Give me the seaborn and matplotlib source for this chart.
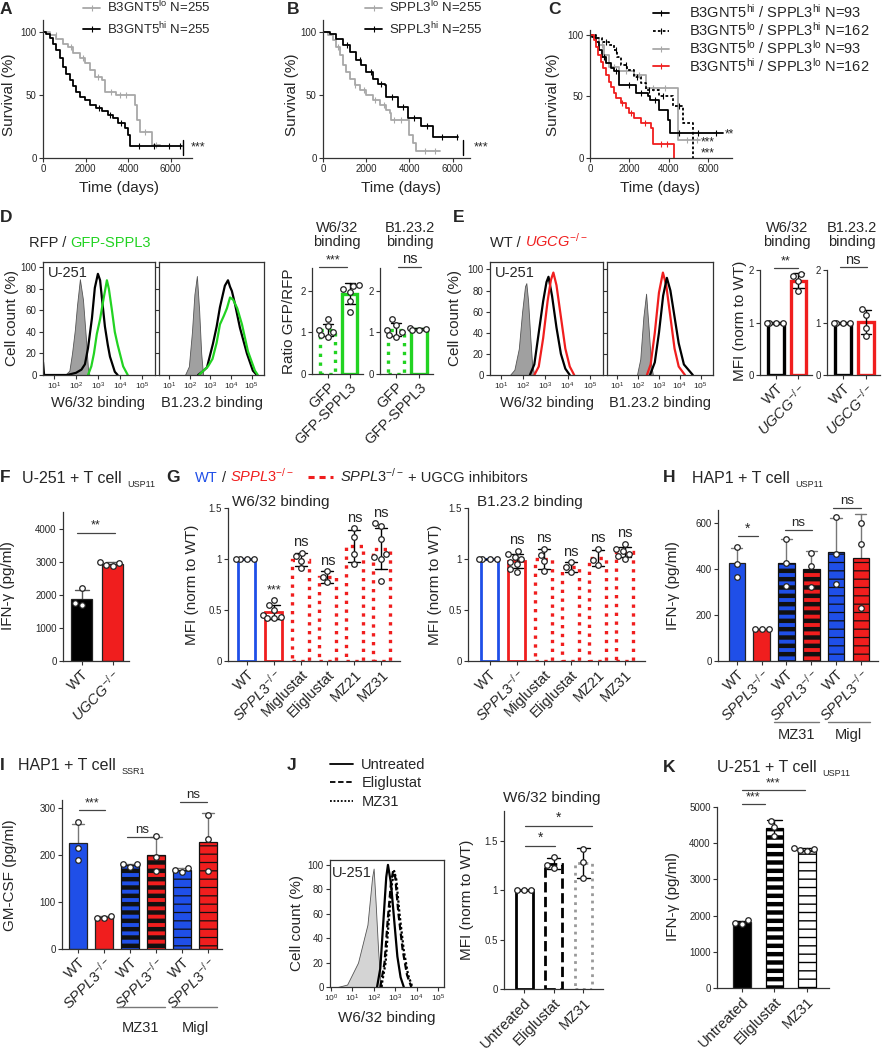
import numpy as np
import pandas as pd
import matplotlib
matplotlib.use('Agg')
import matplotlib.pyplot as plt
import matplotlib.transforms as mtransforms
import seaborn as sns
from matplotlib.lines import Line2D

W, H = 883, 1050
BLUE, RED, GREEN = '#1f4fe8', '#f01e1e', '#22d322'
GREYLINE = '#a8a8a8'

# ---------------- Kaplan-Meier data (time in days where survival % steps) ----------------
a_hi_t = [0, 160, 310, 470, 630, 790, 940, 1100, 1260, 1410, 1570, 1730, 1960, 2200, 2510, 2750, 3060, 3300, 3530, 3850, 4000, 4110, 6520]
a_hi_s = [100, 98.7, 95.5, 90.8, 85.5, 79, 72, 67, 62, 57, 52.6, 48.7, 46, 42, 39.5, 37, 34, 31.6, 27.6, 23.7, 18.4, 9.7, 9.7]
a_hi_c = [2650, 3150, 3650, 4500, 5200, 5900, 6450]
a_lo_t = [0, 310, 630, 940, 1180, 1410, 1730, 1960, 2200, 2430, 2750, 2900, 3450, 4320, 4400, 4550, 5100, 5500]
a_lo_s = [100, 97.4, 94.7, 90.8, 88, 83, 79, 75, 70, 64.5, 62, 52.6, 50, 42, 30, 21, 10.5, 10.5]
a_lo_c = [600, 1300, 1900, 2600, 3200, 3600, 3900, 4800, 5300]

b_lo_t = [0, 230, 460, 620, 770, 920, 1080, 1230, 1460, 1690, 2000, 2310, 2620, 2930, 3080, 3160, 3970, 4160, 4310, 5390]
b_lo_s = [100, 97.4, 93.4, 88, 81.6, 73.7, 68.4, 63, 57.9, 54, 50, 46, 42, 38, 35.5, 30.3, 18.4, 11.8, 5.3, 5.3]
b_lo_c = [700, 1500, 1900, 2400, 2800, 3300, 3600, 4700, 5200]
b_hi_t = [0, 310, 620, 920, 1230, 1540, 1770, 2000, 2310, 2540, 2850, 2930, 3470, 3930, 4540, 5080, 6240]
b_hi_s = [100, 98.7, 94.7, 89.5, 84.2, 77.6, 73.7, 68.4, 63, 59, 58, 48.7, 40.8, 31.6, 25, 17, 17]
b_hi_c = [1100, 1700, 2200, 2700, 3200, 3700, 4200, 4800, 5500, 6200]

c_hh_t = [0, 120, 290, 460, 630, 800, 1050, 1220, 1480, 2330, 2920, 3040, 3520, 3940, 4060, 6750]
c_hh_s = [100, 98.6, 94.6, 87.8, 82.4, 77, 73, 70.3, 59.5, 52.7, 50, 47.3, 39.2, 31, 20.3, 20.3]
c_hh_c = [700, 1300, 2000, 2600, 3300, 4500, 5500, 6400]
c_lh_t = [0, 290, 630, 970, 1220, 1390, 1560, 1900, 2240, 2580, 2840, 3520, 4200, 4710, 5220]
c_lh_s = [100, 97.3, 94.6, 91.9, 87.8, 82.4, 75.7, 71.6, 66.2, 60.8, 55.4, 50, 41.9, 28.4, 0]
c_lh_c = [800, 1300, 1800, 2400, 3000, 3700, 4500]
c_ll_t = [0, 200, 460, 710, 970, 1480, 2240, 2840, 4450, 5560]
c_ll_s = [100, 97.3, 91.9, 83.8, 74.3, 70.3, 67.6, 56.8, 14.9, 14.9]
c_ll_c = [600, 1200, 1800, 2500, 3200, 3800, 4900, 5400]
c_hl_t = [0, 200, 290, 420, 540, 660, 800, 940, 1050, 1220, 1340, 1560, 1820, 1990, 2240, 2580, 3090, 3210, 4280]
c_hl_s = [100, 96, 90.5, 83.8, 78.4, 73, 67.6, 62, 57.6, 52.7, 48.6, 44.6, 40.5, 36.5, 32.4, 28.4, 24.3, 11.6, 0]
c_hl_c = [1600, 2100, 2800, 3600, 3900]

# ---------------- flow histograms (log10 fluorescence, % of max) ----------------
d1_grey_x = [1.5, 1.7, 1.82, 1.95, 2.05, 2.18, 2.32, 2.45, 2.55, 2.62]
d1_grey_y = [0, 4, 20, 42, 65, 89, 70, 35, 5, 0]
d1_black_x = [0.5, 0.55, 1.6, 2.0, 2.25, 2.41, 2.55, 2.73, 2.86, 3.0, 3.1, 3.18, 3.32, 3.45, 3.55, 3.77, 3.9]
d1_black_y = [12, 0, 0, 2, 5, 10, 25, 53, 81, 94, 88, 72, 45, 28, 17, 3, 0]
d1_green_x = [2.55, 2.7, 2.82, 2.95, 3.1, 3.25, 3.41, 3.5, 3.64, 3.77, 3.9, 4.0, 4.15, 4.36]
d1_green_y = [0, 8, 20, 38, 52, 70, 88, 80, 60, 40, 28, 20, 8, 0]
d2_grey_x = [1.76, 1.95, 2.1, 2.22, 2.34, 2.45, 2.55, 2.64]
d2_grey_y = [0, 8, 40, 75, 92, 60, 20, 0]
d2_black_x = [2.4, 2.6, 2.83, 3.12, 3.3, 3.46, 3.7, 3.85, 3.95, 4.04, 4.19, 4.43, 4.77, 5.06, 5.25]
d2_black_y = [0, 3, 7, 29, 45, 63, 83, 88, 82, 78, 66, 44, 20, 4, 0]
d2_green_x = [2.45, 2.6, 2.88, 3.1, 3.3, 3.46, 3.65, 3.8, 3.95, 4.1, 4.3, 4.53, 4.82, 5.16, 5.3]
d2_green_y = [0, 3, 8, 15, 30, 47, 55, 62, 72, 70, 62, 47, 22, 4, 0]

e1_grey_x = [1.4, 1.6, 1.8, 1.95, 2.08, 2.14, 2.22, 2.32, 2.4, 2.5]
e1_grey_y = [0, 5, 25, 60, 84, 87, 70, 35, 10, 0]
e1_black_x = [2.3, 2.5, 2.7, 2.9, 3.05, 3.14, 3.3, 3.5, 3.7, 3.9, 4.1]
e1_black_y = [0, 10, 40, 70, 88, 93, 75, 45, 20, 6, 0]
e1_red_x = [2.5, 2.7, 2.9, 3.1, 3.25, 3.36, 3.5, 3.7, 3.9, 4.1, 4.3]
e1_red_y = [0, 8, 35, 70, 90, 97, 85, 55, 25, 8, 0]
e2_grey_x = [1.94, 2.1, 2.25, 2.38, 2.5, 2.62, 2.71]
e2_grey_y = [0, 15, 55, 77, 45, 10, 0]
e2_red_x = [2.42, 2.6, 2.8, 3.0, 3.19, 3.35, 3.55, 3.75, 3.95, 4.25]
e2_red_y = [0, 10, 40, 78, 97, 85, 55, 25, 8, 0]
e2_black_x = [2.57, 2.8, 3.0, 3.2, 3.38, 3.55, 3.75, 3.95, 4.2, 4.63]
e2_black_y = [0, 12, 40, 75, 92, 80, 55, 30, 10, 0]

j_grey_x = [0.3, 0.75, 1.26, 1.7, 1.92, 1.99, 2.08, 2.2, 2.3, 2.4]
j_grey_y = [0, 2, 20, 51, 90, 97, 70, 30, 5, 0]
j_untr_x = [2.15, 2.3, 2.45, 2.58, 2.66, 2.8, 2.95, 3.1, 3.25, 3.4]
j_untr_y = [0, 15, 55, 90, 100, 85, 55, 25, 8, 0]
j_elig_x = [2.3, 2.5, 2.65, 2.8, 2.9, 3.0, 3.15, 3.35, 3.55, 3.75]
j_elig_y = [0, 20, 55, 85, 95, 90, 60, 30, 10, 0]
j_mz31_x = [2.35, 2.55, 2.7, 2.85, 2.95, 3.05, 3.2, 3.4, 3.6, 3.8]
j_mz31_y = [0, 20, 55, 85, 95, 88, 60, 30, 10, 0]

# ---------------- bar chart replicates ----------------
d_keys = ['GFP', 'GFP-SPPL3']
d_w632 = [[1.32, 1.15, 1.05, 1.0, 0.95, 0.9], [2.15, 2.12, 2.05, 1.98, 1.75, 1.5]]
d_b1232 = [[1.32, 1.18, 1.05, 1.0, 0.95, 0.9], [1.1, 1.08, 1.06, 1.05]]
e_keys = ['WT', 'UGCG']
e_w632 = [[1, 1, 1, 1], [1.92, 1.88, 1.8, 1.6]]
e_b1232 = [[1, 1, 1, 1], [1.25, 1.15, 0.9, 0.75]]
f_ifng = [[2200, 1750, 1700], [3000, 2950, 2900, 2870]]
g_keys = ['WT', 'SPPL3', 'Miglustat', 'Eliglustat', 'MZ21', 'MZ31']
g_w632 = [[1, 1, 1, 1], [0.6, 0.55, 0.5, 0.45, 0.43, 0.42, 0.42], [1.06, 1.03, 0.98, 0.91],
          [0.88, 0.82, 0.77], [1.3, 1.22, 1.05, 0.95], [1.35, 1.32, 1.2, 1.05, 1.02, 1.0, 0.78]]
g_b1232 = [[1, 1, 1, 1], [1.08, 1.05, 1.02, 1.0, 0.97, 0.95, 0.9, 0.87], [1.1, 1.04, 0.98, 0.88],
           [0.97, 0.92, 0.87], [1.1, 0.99, 0.94], [1.15, 1.1, 1.08, 1.05, 1.03, 1.0]]
g_w632_sig = ['', '***', 'ns', 'ns', 'ns', 'ns']
g_b1232_sig = ['', 'ns', 'ns', 'ns', 'ns', 'ns']
hi_keys = ['WT', 'KO', 'WT_MZ31', 'KO_MZ31', 'WT_Migl', 'KO_Migl']
h_ifng = [[495, 420, 365], [140, 140, 140], [530, 425, 325], [470, 415, 320], [625, 465, 335], [600, 510, 230]]
i_gmcsf = [[270, 215, 190], [65, 67, 70], [180, 175, 180], [240, 195, 165], [172, 168, 163], [285, 235, 165]]
j_keys = ['Untreated', 'Eliglustat', 'MZ31']
j_w632 = [[1, 1, 1], [1.33, 1.25, 1.22], [1.42, 1.28, 1.12]]
k_ifng = [[1870, 1800, 1780], [4620, 4450, 4200], [3880, 3830, 3800, 3780]]

KO = r'$\mathit{SPPL3}^{-/-}$'
UGCG = r'$\mathit{UGCG}^{-/-}$'

sns.set_theme(style='ticks')
plt.rcParams['font.family'] = ['Liberation Sans', 'DejaVu Sans']
plt.rcParams['mathtext.fontset'] = 'custom'
plt.rcParams['mathtext.rm'] = 'Liberation Sans'
plt.rcParams['mathtext.it'] = 'Liberation Sans:italic'
plt.rcParams['mathtext.bf'] = 'Liberation Sans:bold'
plt.rcParams['font.size'] = 10

fig = plt.figure(figsize=(W / 100, H / 100), dpi=100)


def add_ax(l, t, r, b):
    return fig.add_axes([l / W, 1 - b / H, (r - l) / W, (b - t) / H])


def ftext(x, y, s, **kw):
    kw.setdefault('ha', 'center')
    kw.setdefault('va', 'center')
    kw.setdefault('fontsize', 10.5)
    return fig.text(x / W, 1 - y / H, s, **kw)


def chain(x, y, parts):
    r = fig.canvas.get_renderer()
    for s, kw in parts:
        kw = dict(kw)
        x += kw.pop('gap', 0)
        dy = kw.pop('dy', 0)
        kw.setdefault('fontsize', 10.5)
        t = fig.text(x / W, 1 - (y + dy) / H, s, ha='left', va='baseline', **kw)
        x += t.get_window_extent(r).width
    return x


def style(ax, size=7):
    ax.tick_params(axis='both', which='major', length=3, width=0.8, labelsize=size, pad=1.5, color='#333')
    ax.tick_params(axis='both', which='minor', length=1.5, width=0.6, color='#333')
    for sp in ax.spines.values():
        sp.set_linewidth(0.9)
        sp.set_color('#333')


def km(ax, curves, xmax, ymax):
    for t, s, cens, color, ls in curves:
        ax.step(t, s, where='post', color=color, ls=ls, lw=1.3)
        idx = np.searchsorted(t, cens, side='right') - 1
        ax.plot(cens, np.asarray(s)[idx], ls='none', marker='|', ms=4, mew=0.8, color=color)
    ax.set_xlim(0, xmax)
    ax.set_ylim(0, ymax)
    ax.set_xticks([0, 2000, 4000, 6000])
    ax.set_yticks([0, 50, 100])
    sns.despine(ax=ax)
    style(ax)


def km_legend(ax, entries, x, y, hl, tp, sp, marker='|', size=10.5):
    handles = [Line2D([], [], color=c, ls=s, lw=1.3, marker=marker, ms=5, mew=0.8) for c, s, _ in entries]
    ax.legend(handles, [e[2] for e in entries], loc='upper left', bbox_to_anchor=(x / W, 1 - y / H),
              bbox_transform=fig.transFigure, frameon=False, fontsize=size, handlelength=hl, numpoints=1,
              handletextpad=tp, labelspacing=sp, borderpad=0, borderaxespad=0)


def hist(ax, fills, lines, xlim, ylim, ticks, ylabels=True, fill_color='#a0a0a0'):
    for xs, ys in fills:
        ax.fill_between(10 ** np.asarray(xs), ys, color=fill_color, edgecolor='#555', lw=0.6)
    for xs, ys, color, ls in lines:
        ax.plot(10 ** np.asarray(xs), ys, color=color, ls=ls, lw=1.6)
    ax.set_xscale('log')
    ax.set_xlim(*xlim)
    ax.set_ylim(*ylim)
    ax.set_xticks(ticks)
    ax.set_yticks([0, 20, 40, 60, 80, 100])
    if not ylabels:
        ax.set_yticklabels([])
    style(ax)
    ax.tick_params(axis='x', labelsize=6, pad=1)


def bar_panel(ax, keys, values, width, styles, ecolor='black', err_front=True, cap=0.45, dot=4.0, dot_ec='#222'):
    df = pd.DataFrame({'k': np.repeat(keys, [len(v) for v in values]), 'v': np.concatenate(values)})
    sns.barplot(data=df, x='k', y='v', order=keys, errorbar='sd', width=width, capsize=cap,
                err_kws={'color': ecolor, 'linewidth': 1.0, 'zorder': 3 if err_front else 0.5}, ax=ax)
    for p, st in zip(ax.patches, styles):
        p.set_facecolor(st.get('fc', 'white'))
        p.set_edgecolor(st.get('ec', '#222'))
        p.set_linewidth(st.get('lw', 0.9))
        p.set_linestyle(st.get('ls', '-'))
        if 'hatch' in st:
            p.set_hatch(st['hatch'])
            if hasattr(p, 'set_hatch_linewidth'):
                p.set_hatch_linewidth(st.get('hlw', 1.0))
    sns.swarmplot(data=df, x='k', y='v', order=keys, color='white', edgecolor=dot_ec, linewidth=0.9,
                  size=dot, ax=ax, zorder=5, warn_thresh=1)
    ax.set_xlabel('')
    ax.set_ylabel('')
    sns.despine(ax=ax)
    style(ax)
    return df


def xlabels(ax, labels, size=10.5):
    ax.set_xticks(range(len(labels)))
    ax.set_xticklabels(labels, rotation=45, ha='right', rotation_mode='anchor', fontsize=size)


def sig(ax, x0, x1, y, s, size=9.5, color='#444'):
    ax.plot([x0, x1], [y, y], color=color, lw=0.9, clip_on=False)
    ax.annotate(s, ((x0 + x1) / 2, y), xytext=(0, 0.5), textcoords='offset points', ha='center',
                va='bottom', fontsize=size, annotation_clip=False)


def above(ax, values, labels, size=10.5):
    for i, (v, lab) in enumerate(zip(values, labels)):
        if not lab:
            continue
        s = pd.Series(v)
        top = max(s.max(), s.mean() + s.std())
        ax.annotate(lab, (i, top), xytext=(0, 2.5), textcoords='offset points', ha='center', va='bottom',
                    fontsize=size if lab == 'ns' else 9, annotation_clip=False)


def group(ax, x0, x1, yl, yt, s):
    tr = mtransforms.blended_transform_factory(ax.transData, ax.transAxes)
    ax.plot([x0, x1], [yl, yl], color='#777', lw=1.0, transform=tr, clip_on=False)
    ax.text((x0 + x1) / 2, yt, s, ha='center', va='center', fontsize=10.5, transform=tr)


# ================= row 1: Kaplan-Meier =================
axA = add_ax(43, 20, 192, 158)
km(axA, [(a_lo_t, a_lo_s, a_lo_c, GREYLINE, '-'), (a_hi_t, a_hi_s, a_hi_c, 'black', '-')], 7000, 109.5)
axA.plot([6600, 6600], [2.5, 14.5], color='black', lw=1, clip_on=False)
axA.text(6950, 8.5, '***', fontsize=9, va='center', clip_on=False)
km_legend(axA, [(GREYLINE, '-', r'B3GNT5$^{\mathrm{lo}}$ N=255'), ('black', '-', r'B3GNT5$^{\mathrm{hi}}$ N=255')],
          83, -1, 1.3, 0.5, 0.35, size=9.5)

axB = add_ax(323, 20, 470, 158)
km(axB, [(b_lo_t, b_lo_s, b_lo_c, GREYLINE, '-'), (b_hi_t, b_hi_s, b_hi_c, 'black', '-')], 6800, 109.5)
axB.plot([6470, 6470], [2.5, 14.5], color='black', lw=1, clip_on=False)
axB.text(6950, 8.5, '***', fontsize=9, va='center', clip_on=False)
km_legend(axB, [(GREYLINE, '-', r'SPPL3$^{\mathrm{lo}}$ N=255'), ('black', '-', r'SPPL3$^{\mathrm{hi}}$ N=255')],
          365, -1, 1.3, 0.5, 0.35, size=9.5)

axC = add_ax(590, 30, 732, 158)
km(axC, [(c_ll_t, c_ll_s, c_ll_c, GREYLINE, '-'), (c_lh_t, c_lh_s, c_lh_c, 'black', (0, (1.5, 1.2))),
         (c_hh_t, c_hh_s, c_hh_c, 'black', '-'), (c_hl_t, c_hl_s, c_hl_c, RED, '-')], 7200, 104)
axC.text(6830, 19.5, '**', fontsize=8.5, va='center', clip_on=False)
axC.text(5640, 12.5, '***', fontsize=8.5, va='center', clip_on=False)
axC.text(5640, 3.5, '***', fontsize=8.5, va='center', clip_on=False)
km_legend(axC, [('black', '-', r'B3GNT5$^{\mathrm{hi}}$ / SPPL3$^{\mathrm{hi}}$ N=93'),
                ('black', (0, (1.5, 1.2)), r'B3GNT5$^{\mathrm{lo}}$ / SPPL3$^{\mathrm{hi}}$ N=162'),
                (GREYLINE, '-', r'B3GNT5$^{\mathrm{lo}}$ / SPPL3$^{\mathrm{lo}}$ N=93'),
                (RED, '-', r'B3GNT5$^{\mathrm{hi}}$ / SPPL3$^{\mathrm{lo}}$ N=162')],
          653, 3, 1.1, 1.35, 0.0, size=10.5)

for x in (9, 292, 553):
    ftext(x, 95, 'Survival (%)', rotation=90, fontsize=11)
for x in (119, 401, 660):
    ftext(x, 188, 'Time (days)', fontsize=11)

# ================= row 2: D and E =================
DXL = (10 ** 0.5, 10 ** 5.6)
DT = [10, 100, 1000, 1e4, 1e5]
axD1 = add_ax(43, 262, 155, 375)
hist(axD1, [(d1_grey_x, d1_grey_y)], [(d1_black_x, d1_black_y, 'black', '-'), (d1_green_x, d1_green_y, GREEN, '-')],
     DXL, (0, 105), DT)
axD2 = add_ax(159, 262, 264, 375)
hist(axD2, [(d2_grey_x, d2_grey_y)], [(d2_black_x, d2_black_y, 'black', '-'), (d2_green_x, d2_green_y, GREEN, '-')],
     DXL, (0, 105), DT, ylabels=False)
axE1 = add_ax(490, 262, 603, 375)
hist(axE1, [(e1_grey_x, e1_grey_y)], [(e1_black_x, e1_black_y, 'black', '-'), (e1_red_x, e1_red_y, RED, '-')],
     DXL, (0, 107), DT)
axE2 = add_ax(607, 262, 713, 375)
hist(axE2, [(e2_grey_x, e2_grey_y)], [(e2_red_x, e2_red_y, RED, '-'), (e2_black_x, e2_black_y, 'black', '-')],
     DXL, (0, 107), DT, ylabels=False)
for ax in (axD1, axE1):
    ax.text(0.04, 0.9, 'U-251', transform=ax.transAxes, fontsize=10.5, va='center')

chain(29, 247, [('RFP /', {}), ('GFP-SPPL3', {'color': GREEN, 'gap': 4})])
chain(490, 247, [('WT /', {}), (UGCG, {'color': RED, 'gap': 4})])
ftext(12, 318, 'Cell count (%)', rotation=90, fontsize=11)
ftext(455, 318, 'Cell count (%)', rotation=90, fontsize=11)
ftext(98, 403, 'W6/32 binding', fontsize=10.5)
ftext(212, 403, 'B1.23.2 binding', fontsize=10.5)
ftext(547, 403, 'W6/32 binding', fontsize=10.5)
ftext(660, 403, 'B1.23.2 binding', fontsize=10.5)

gfp_st = [{'ec': GREEN, 'lw': 2.4, 'ls': ':'}, {'ec': GREEN, 'lw': 2.4}]
axDb1 = add_ax(312, 268, 363, 374)
bar_panel(axDb1, d_keys, d_w632, 0.7, gfp_st)
axDb2 = add_ax(380, 268, 433, 374)
bar_panel(axDb2, d_keys, d_b1232, 0.7, gfp_st)
for ax in (axDb1, axDb2):
    ax.set_xlim(-0.7, 1.6)
    ax.set_ylim(0, 2.55)
    ax.set_yticks([0, 1, 2])
    xlabels(ax, ['GFP', 'GFP-SPPL3'])
sig(axDb1, -0.4, 0.9, 2.58, '***', size=9)
sig(axDb2, 0.1, 1.1, 2.58, 'ns', size=10.5)
ftext(337, 235, 'W6/32\nbinding', linespacing=1.0)
ftext(410, 235, 'B1.23.2\nbinding', linespacing=1.0)
ftext(289, 321, 'Ratio GFP/RFP', rotation=90, fontsize=11)

ugcg_st = [{'ec': 'black', 'lw': 2.4}, {'ec': RED, 'lw': 2.4}]
axEb1 = add_ax(760, 270, 812, 375)
bar_panel(axEb1, e_keys, e_w632, 0.7, ugcg_st)
axEb2 = add_ax(827, 270, 880, 375)
bar_panel(axEb2, e_keys, e_b1232, 0.7, ugcg_st)
for ax in (axEb1, axEb2):
    ax.set_xlim(-0.7, 1.6)
    ax.set_ylim(0, 2.0)
    ax.set_yticks([0, 1, 2])
    xlabels(ax, ['WT', UGCG])
sig(axEb1, -0.1, 1.0, 2.04, '**', size=9)
sig(axEb2, -0.15, 1.02, 2.05, 'ns', size=10.5)
ftext(787, 235, 'W6/32\nbinding', linespacing=1.0)
ftext(852, 235, 'B1.23.2\nbinding', linespacing=1.0)
ftext(740, 321, 'MFI (norm to WT)', rotation=90, fontsize=11)

# ================= row 3: F G H =================
axF = add_ax(63, 512, 129, 661)
bar_panel(axF, e_keys, f_ifng, 0.68, [{'fc': 'black'}, {'fc': RED}], ecolor='#555', err_front=False)
axF.set_xlim(-0.6, 1.53)
axF.set_ylim(0, 4500)
axF.set_yticks([0, 1000, 2000, 3000, 4000])
xlabels(axF, ['WT', UGCG])
sig(axF, -0.15, 1.08, 3880, '**', size=9)
chain(22, 483, [('U-251 + T cell', {'fontsize': 11.5}), ('USP11', {'fontsize': 6.5, 'dy': 4, 'gap': 6})])
ftext(8, 586, 'IFN-γ (pg/ml)', rotation=90, fontsize=11)

g_st = [{'ec': BLUE, 'lw': 2.0}, {'ec': RED, 'lw': 2.0}] + [{'ec': RED, 'lw': 2.4, 'ls': ':'}] * 4
axG1 = add_ax(228, 508, 400, 661)
bar_panel(axG1, g_keys, g_w632, 0.63, g_st)
axG1.set_xlim(-0.7, 5.7)
above(axG1, g_w632, g_w632_sig)
axG2 = add_ax(468, 508, 645, 661)
bar_panel(axG2, g_keys, g_b1232, 0.63, g_st)
axG2.set_xlim(-0.8, 5.75)
above(axG2, g_b1232, g_b1232_sig)
for ax in (axG1, axG2):
    ax.set_ylim(0, 1.5)
    ax.set_yticks([0, 0.5, 1, 1.5])
    ax.set_yticklabels(['0', '0.5', '1', '1.5'])
    xlabels(ax, ['WT', KO, 'Miglustat', 'Eliglustat', 'MZ21', 'MZ31'])
ftext(232, 502, 'W6/32 binding', ha='left', fontsize=11)
ftext(477, 502, 'B1.23.2 binding', ha='left', fontsize=11)
ftext(192, 585, 'MFI (norm to WT)', rotation=90, fontsize=11)
ftext(435, 585, 'MFI (norm to WT)', rotation=90, fontsize=11)
chain(195, 482, [('WT', {'color': BLUE}), ('/', {'gap': 4}), (KO, {'color': RED, 'gap': 4})])
fig.add_artist(Line2D([308 / W, 333 / W], [1 - 477 / H] * 2, transform=fig.transFigure, color=RED,
                      lw=2.2, ls=(0, (2.0, 1.6))))
chain(340, 482, [(KO, {}), ('+ UGCG inhibitors', {'gap': 4})])

hi_st = [{'fc': BLUE}, {'fc': RED},
         {'fc': BLUE, 'ec': '#111', 'hatch': '--', 'hlw': 3.2}, {'fc': RED, 'ec': '#111', 'hatch': '--', 'hlw': 3.2},
         {'fc': BLUE, 'ec': '#111', 'hatch': '--', 'hlw': 0.9}, {'fc': RED, 'ec': '#111', 'hatch': '--', 'hlw': 0.9}]
axH = add_ax(718, 510, 878, 661)
bar_panel(axH, hi_keys, h_ifng, 0.67, hi_st, ecolor='#777', err_front=False)
axH.set_xlim(-0.76, 5.69)
axH.set_ylim(0, 657)
axH.set_yticks([0, 200, 400, 600])
xlabels(axH, ['WT', KO, 'WT', KO, 'WT', KO])
sig(axH, 0.05, 0.85, 543, '*', size=10)
sig(axH, 1.94, 3.02, 570, 'ns')
sig(axH, 3.87, 5.0, 665, 'ns')
group(axH, 1.5, 3.33, -0.404, -0.49, 'MZ31')
group(axH, 3.67, 5.35, -0.404, -0.49, 'Migl')
chain(692, 483, [('HAP1 + T cell', {'fontsize': 11.5}), ('USP11', {'fontsize': 6.5, 'dy': 4, 'gap': 6})])
ftext(673, 586, 'IFN-γ (pg/ml)', rotation=90, fontsize=11)

# ================= row 4: I J K =================
axI = add_ax(62, 800, 222, 949)
bar_panel(axI, hi_keys, i_gmcsf, 0.69, hi_st, ecolor='#777', err_front=False)
axI.set_xlim(-0.62, 5.54)
axI.set_ylim(0, 317)
axI.set_yticks([0, 100, 200, 300])
xlabels(axI, ['WT', KO, 'WT', KO, 'WT', KO])
sig(axI, 0.04, 1.04, 296, '***', size=9)
sig(axI, 1.9, 3.05, 239, 'ns')
sig(axI, 3.92, 4.96, 313, 'ns')
group(axI, 1.5, 3.33, -0.389, -0.53, 'MZ31')
group(axI, 3.67, 5.35, -0.389, -0.53, 'Migl')
chain(18, 770, [('HAP1 + T cell', {'fontsize': 11.5}), ('SSR1', {'fontsize': 6.5, 'dy': 4, 'gap': 6})])
ftext(10, 875, 'GM-CSF (pg/ml)', rotation=90, fontsize=11)

axJ1 = add_ax(330, 860, 444, 987)
hist(axJ1, [(j_grey_x, j_grey_y)], [(j_untr_x, j_untr_y, 'black', '-'), (j_elig_x, j_elig_y, 'black', (0, (3, 1.5))),
                                     (j_mz31_x, j_mz31_y, 'black', (0, (1, 1)))],
     (10 ** -0.05, 10 ** 5.28), (0, 104), [1, 10, 100, 1000, 1e4, 1e5], fill_color='#d4d4d4')
axJ1.text(0.02, 0.9, 'U-251', transform=axJ1.transAxes, fontsize=10.5, va='center')
ftext(297, 923, 'Cell count (%)', rotation=90, fontsize=11)
ftext(387, 1018, 'W6/32 binding', fontsize=11)
km_legend(axJ1, [('black', '-', 'Untreated'), ('black', (0, (3, 1.5)), 'Eliglustat'), ('black', (0, (1, 1)), 'MZ31')],
          330, 758, 1.6, 0.55, 0.3, marker=None)

axJ2 = add_ax(504, 811, 603, 989)
bar_panel(axJ2, j_keys, j_w632, 0.58, [{'ec': 'black', 'lw': 2.0}, {'ec': 'black', 'lw': 2.0, 'ls': '--'},
                                        {'ec': '#999', 'lw': 2.0, 'ls': ':'}])
axJ2.set_xlim(-0.68, 2.67)
axJ2.set_ylim(0, 1.8)
axJ2.set_yticks([0, 0.5, 1, 1.5])
axJ2.set_yticklabels(['0', '0.5', '1', '1.5'])
xlabels(axJ2, ['Untreated', 'Eliglustat', 'MZ31'])
sig(axJ2, 0.03, 1.05, 1.45, '*', size=10)
sig(axJ2, 0.03, 2.3, 1.65, '*', size=10)
ftext(552, 798, 'W6/32 binding', fontsize=11)
ftext(467, 900, 'MFI (norm to WT)', rotation=90, fontsize=11)

axK = add_ax(717, 807, 829, 988)
bar_panel(axK, j_keys, k_ifng, 0.55, [{'fc': 'black'}, {'fc': 'white', 'ec': 'black', 'hatch': '--', 'hlw': 3.2},
                                       {'fc': 'white', 'ec': 'black', 'hatch': '--', 'hlw': 1.0}])
axK.set_xlim(-0.77, 2.68)
axK.set_ylim(0, 5000)
axK.set_yticks([0, 1000, 2000, 3000, 4000, 5000])
xlabels(axK, ['Untreated', 'Eliglustat', 'MZ31'])
sig(axK, 0.0, 0.7, 5083, '***', size=9)
sig(axK, 0.0, 1.94, 5472, '***', size=9)
chain(717, 772, [('U-251 + T cell', {'fontsize': 11.5}), ('USP11', {'fontsize': 6.5, 'dy': 4, 'gap': 6})])
ftext(673, 897, 'IFN-γ (pg/ml)', rotation=90, fontsize=11)

# panel letters
for s, x, y in [('A', 0, 9), ('B', 287, 9), ('C', 548, 10), ('D', 0, 217), ('E', 453, 217), ('F', 0, 478),
                ('G', 166, 478), ('H', 663, 478), ('I', 0, 765), ('J', 287, 765), ('K', 663, 767)]:
    ftext(x, y, s, ha='left', fontsize=12.5, fontweight='bold')

fig.savefig('out.png', dpi=100)
